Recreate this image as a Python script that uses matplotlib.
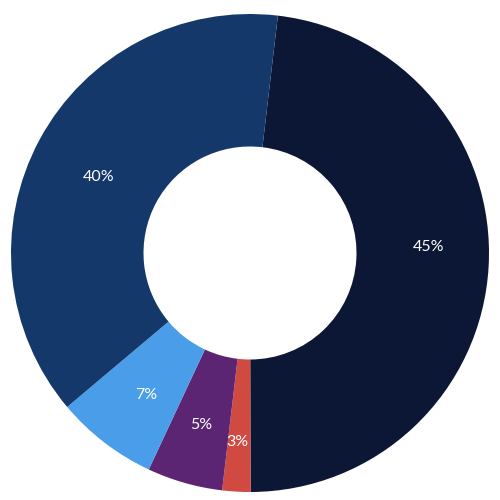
import matplotlib.pyplot as plt

labels = ["45%", "3%", "5%", "7%", "40%"]
sizes = [48.1, 1.9, 5.1, 6.9, 38.0]
colors = ["#0c1736", "#d04a42", "#5c2574", "#4a9de8", "#14386a"]
# small label nudges (axes units) to match the original placement
nudge_x = [0.0, -0.01, 0.0, 0.02, 0.025]
nudge_y = [0.065, -0.04, 0.0, 0.0, -0.035]

plt.rcParams['font.family'] = ['Lato', 'DejaVu Sans']

fig = plt.figure(figsize=(5, 5), dpi=100)
ax = fig.add_axes([0, 0, 1, 1])

wedges, texts = ax.pie(
    sizes, colors=colors, startangle=83.3, counterclock=False,
    radius=0.956, center=(0, -0.012),
    labels=labels, labeldistance=0.75,
    wedgeprops=dict(width=0.53, edgecolor="none"),
    textprops=dict(color="white", fontsize=11.5, ha="center", va="center"),
)
for t, dx, dy in zip(texts, nudge_x, nudge_y):
    x, y = t.get_position()
    t.set_position((x + dx, y + dy))
    t.set_ha("center")
    t.set_va("center")

ax.set_xlim(-1, 1)
ax.set_ylim(-1, 1)
ax.set_aspect("equal")
ax.axis("off")

fig.savefig("out.png", dpi=100, facecolor="white")
